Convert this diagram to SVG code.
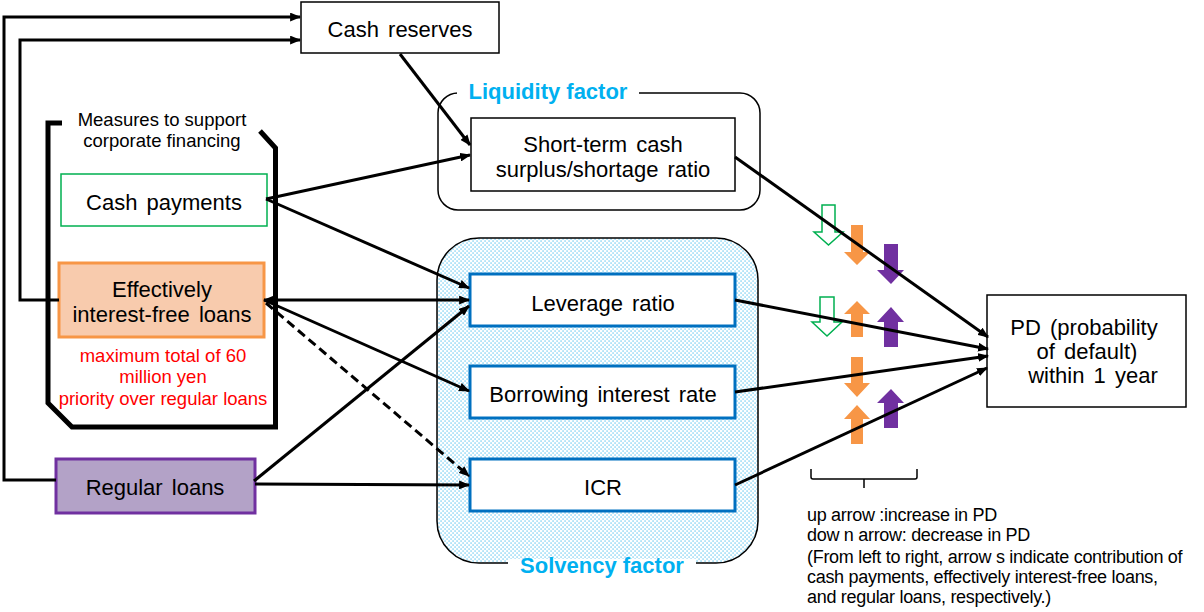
<svg xmlns="http://www.w3.org/2000/svg" width="1204" height="612" viewBox="0 0 1204 612">
<style>
text{font-family:"Liberation Sans",Arial,sans-serif;fill:#000}
.n{font-size:22px;text-anchor:middle;word-spacing:3px}
.m{font-size:18.5px;text-anchor:middle}
.red{font-size:18.5px;text-anchor:middle;fill:#ff0000}
.lbl{font-size:22px;font-weight:bold;fill:#00b0f0;text-anchor:middle}
.lg{font-size:18px;letter-spacing:-0.3px}
.box{fill:#fff;stroke:#000;stroke-width:1.5}
.blue{fill:#fff;stroke:#0070c0;stroke-width:3}
.ln{fill:none;stroke:#000;stroke-width:3;marker-end:url(#ah)}
.grn{fill:#fff;stroke:#00b050;stroke-width:1.5}
.org{fill:#f79646}
.pur{fill:#7030a0}
</style>
<defs>
<marker id="ah" viewBox="0 0 10 8" refX="9" refY="4" markerWidth="11" markerHeight="9" markerUnits="userSpaceOnUse" orient="auto-start-reverse">
<path d="M0,0 L10,4 L0,8 Z" fill="#000"/>
</marker>
<pattern id="dots" width="4" height="4" patternUnits="userSpaceOnUse">
<rect width="4" height="4" fill="#fff"/>
<rect x="0.5" y="0.5" width="1.1" height="1.1" fill="#29b3ee"/>
<rect x="2.5" y="2.5" width="1.1" height="1.1" fill="#29b3ee"/>
</pattern>
</defs>
<rect width="1204" height="612" fill="#fff"/>

<g id="liquidity-factor">
<rect x="438" y="93" width="322" height="117" rx="20" fill="#fff" stroke="#000" stroke-width="1.5"/>
<rect x="457" y="86" width="182" height="12" fill="#fff"/>
<text class="lbl" x="548" y="99">Liquidity factor</text>
</g>
<g id="solvency-factor">
<rect x="437" y="238" width="321" height="325" rx="42" fill="url(#dots)" stroke="#000" stroke-width="1.5"/>
<rect x="508" y="559" width="188" height="10" fill="#fff"/>
<text class="lbl" x="602" y="573">Solvency factor</text>
</g>

<g id="measures">
<path d="M62,123 H48 V403 L72,427 H275.5 V148 L260,131" fill="none" stroke="#000" stroke-width="5"/>
<text class="m" x="162" y="126">Measures to support</text>
<text class="m" x="162" y="147">corporate financing</text>
</g>

<g id="cash-reserves">
<rect class="box" x="301" y="2" width="198" height="51"/>
<text class="n" x="400" y="37">Cash reserves</text>
</g>
<g id="short-term">
<rect class="box" x="471" y="118" width="264" height="73"/>
<text class="n" x="603" y="152">Short-term cash</text>
<text class="n" x="603" y="177">surplus/shortage ratio</text>
</g>
<g id="cash-payments">
<rect x="61" y="174" width="206" height="52" fill="#fff" stroke="#00b050" stroke-width="1.5"/>
<text class="n" x="164" y="210">Cash payments</text>
</g>
<g id="interest-free-loans">
<rect x="59" y="263" width="205" height="74" fill="#f8cbad" stroke="#f79646" stroke-width="3"/>
<text class="n" x="162" y="297">Effectively</text>
<text class="n" x="162" y="322">interest-free loans</text>
<text class="red" x="163" y="362">maximum total of 60</text>
<text class="red" x="163" y="383">million yen</text>
<text class="red" x="163" y="405">priority over regular loans</text>
</g>
<g id="regular-loans">
<rect x="56" y="459" width="199" height="54" fill="#b3a2c7" stroke="#7030a0" stroke-width="3"/>
<text class="n" x="155" y="495">Regular loans</text>
</g>
<g id="leverage">
<rect class="blue" x="470" y="274" width="265" height="52"/>
<text class="n" x="603" y="311">Leverage ratio</text>
</g>
<g id="borrowing">
<rect class="blue" x="470" y="366" width="265" height="52"/>
<text class="n" x="603" y="402">Borrowing interest rate</text>
</g>
<g id="icr">
<rect class="blue" x="470" y="459" width="265" height="52"/>
<text class="n" x="603" y="495">ICR</text>
</g>
<g id="pd">
<rect class="box" x="987" y="295" width="199" height="112"/>
<text class="n" x="1084" y="335">PD (probability</text>
<text class="n" x="1087" y="359">of default)</text>
<text class="n" x="1093" y="383">within 1 year</text>
</g>

<g id="indicators">
<path class="grn" d="M822,205 H835 V232 H843 L828.5,245 L814,232 H822 Z"/>
<path class="org" d="M851,225 H863 V252 H870 L857,265 L844,252 H851 Z"/>
<path class="pur" d="M884,244 H898 V270 H904 L891,284 L877,270 H884 Z"/>
<path class="grn" d="M820,297 H834 V322 H842 L827,336 L812,322 H820 Z"/>
<path class="org" d="M857,301 L870,314 H863 V337 H851 V314 H844 Z"/>
<path class="pur" d="M891,307 L904,322 H898 V347 H884 V322 H877 Z"/>
<path class="org" d="M851,357 H863 V383 H870 L857,397 L844,383 H851 Z"/>
<path class="org" d="M857,405 L870,419 H863 V444 H851 V419 H844 Z"/>
<path class="pur" d="M891,389 L904,403 H898 V428 H884 V403 H877 Z"/>
</g>

<g id="connectors">
<path class="ln" d="M56,480 H4 V17 H300"/>
<path class="ln" d="M59,300 H20 V40 H300"/>
<path class="ln" d="M400,54 L470,145"/>
<path class="ln" d="M266,199 L470,155"/>
<path class="ln" d="M266,199 L469,288"/>
<path class="ln" d="M264,300 L469,300" style="marker-start:url(#ah)"/>
<path class="ln" d="M264,300 L469,391"/>
<path class="ln" d="M266,303 L469,476" stroke-dasharray="9 5"/>
<path class="ln" d="M254,481 L469,306"/>
<path class="ln" d="M255,484 L469,485"/>
<path class="ln" d="M735,157 L988,337"/>
<path class="ln" d="M735,300 L988,349"/>
<path class="ln" d="M735,392 L988,356"/>
<path class="ln" d="M735,485 L987,368"/>
</g>

<g id="legend">
<path d="M811,469 V477 Q811,479 813,479 H915 Q917,479 917,477 V469 M864,479 V488" fill="none" stroke="#000" stroke-width="1.5"/>
<text class="lg" x="807" y="521">up arrow :increase in PD</text>
<text class="lg" x="807" y="541">dow n arrow: decrease in PD</text>
<text class="lg" x="807" y="563">(From left to right, arrow s indicate contribution of</text>
<text class="lg" x="807" y="583">cash payments, effectively interest-free loans,</text>
<text class="lg" x="807" y="603">and regular loans, respectively.)</text>
</g>
</svg>
